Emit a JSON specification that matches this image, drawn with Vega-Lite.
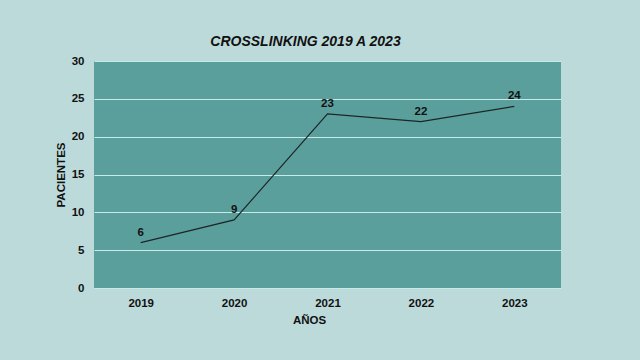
{
  "$schema": "https://vega.github.io/schema/vega-lite/v6.json",
  "autosize": "none",
  "width": 467,
  "height": 227,
  "padding": {"left": 94, "top": 61, "right": 79, "bottom": 72},
  "background": "#bddadb",
  "data": {"values": [
    {"year": "2019", "pacientes": 6},
    {"year": "2020", "pacientes": 9},
    {"year": "2021", "pacientes": 23},
    {"year": "2022", "pacientes": 22},
    {"year": "2023", "pacientes": 24}
  ]},
  "title": {
    "text": "CROSSLINKING 2019 A 2023",
    "font": "Liberation Sans",
    "fontSize": 14,
    "fontWeight": "bold",
    "fontStyle": "italic",
    "color": "#111111",
    "anchor": "middle",
    "dx": -22,
    "offset": 6
  },
  "config": {
    "view": {"fill": "#5b9f9d", "stroke": null},
    "font": "Liberation Sans"
  },
  "encoding": {
    "x": {
      "field": "year", "type": "ordinal",
      "scale": {"type": "point", "padding": 0.5},
      "axis": {
        "title": "AÑOS", "labelAngle": 0, "labelFont": "Liberation Sans", "labelFontSize": 11.5, "labelFontWeight": "bold", "labelColor": "#111111",
        "titleFont": "Liberation Sans", "titleFontSize": 11.5, "titleFontWeight": "bold", "titleColor": "#111111",
        "ticks": false, "domain": false, "labelPadding": 9, "titlePadding": 6, "titleX": 215, "titleAnchor": null
      }
    },
    "y": {
      "field": "pacientes", "type": "quantitative",
      "scale": {"domain": [0, 30]},
      "axis": {
        "title": "PACIENTES", "values": [0, 5, 10, 15, 20, 25, 30], "labelFont": "Liberation Sans", "labelFontSize": 11.5, "labelFontWeight": "bold", "labelColor": "#111111",
        "titleFont": "Liberation Sans", "titleFontSize": 11.5, "titleFontWeight": "bold", "titleColor": "#111111",
        "ticks": false, "domain": false, "labelPadding": 10, "titlePadding": 5,
        "grid": true, "gridColor": "#c6ecea", "gridWidth": 1, "gridOpacity": 1
      }
    }
  },
  "layer": [
    {"mark": {"type": "line", "color": "#1c2626", "strokeWidth": 1.2}},
    {
      "mark": {"type": "text", "dy": -10, "font": "Liberation Sans", "fontSize": 11.5, "fontWeight": "bold", "color": "#111111"},
      "encoding": {"text": {"field": "pacientes", "type": "quantitative"}}
    }
  ]
}
